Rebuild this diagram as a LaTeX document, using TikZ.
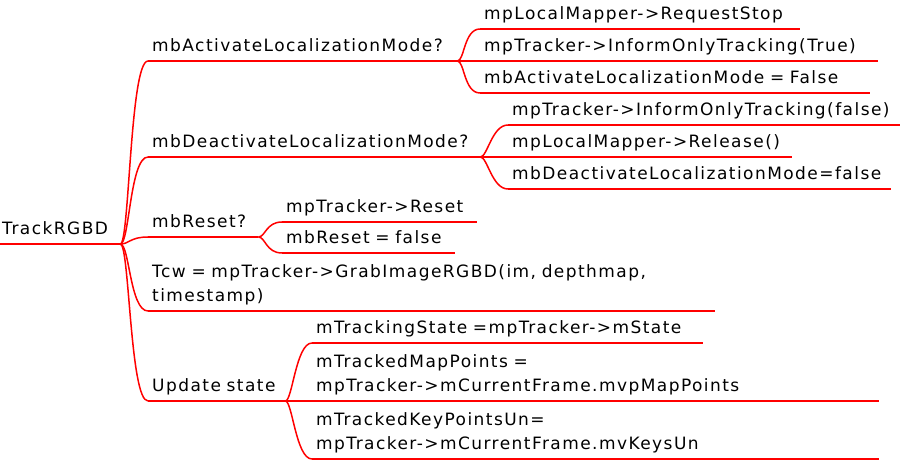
\documentclass[tikz,border=0pt]{standalone}
\usepackage{fontspec}
\setmainfont{DejaVu Sans}[LetterSpace=8.5]
\definecolor{linkred}{RGB}{255,0,0}
\begin{document}
\begin{tikzpicture}[x=1pt,y=-1pt,
  tn/.style={anchor=south west, inner xsep=4pt, inner ysep=9.5pt, text depth=0pt,
    align=left, font=\fontsize{17}{23.5}\selectfont},
  two/.style={text depth=23.5pt},
  link/.style={draw=linkred, line width=1.5pt},
]
\useasboundingbox (0,0) rectangle (921,462);
% root
\node[tn, inner xsep=2pt, text width=116pt] (root) at (0,244) {TrackRGBD};
% level 1
\node[tn, text width=301pt] (A) at (148,61) {mbActivateLocalizationMode?};
\node[tn, text width=324pt] (D) at (148,157) {mbDeactivateLocalizationMode?};
\node[tn, text width=102pt] (R) at (148,237) {mbReset?};
\node[tn, two, text width=559pt] (T) at (148,311) {Tcw = mpTracker->GrabImageRGBD(im, depthmap,\\timestamp)};
\node[tn, text width=129pt] (U) at (148,401) {Update state};
% level 2
\node[tn, text width=312pt] (A1) at (480,29) {mpLocalMapper->RequestStop};
\node[tn, text width=390pt] (A2) at (480,61) {mpTracker->InformOnlyTracking(True)};
\node[tn, text width=382pt] (A3) at (480,93) {mbActivateLocalizationMode = False};
\node[tn, text width=384pt] (D1) at (508,125) {mpTracker->InformOnlyTracking(false)};
\node[tn, text width=276pt] (D2) at (508,157) {mpLocalMapper->Release()};
\node[tn, text width=375pt] (D3) at (508,189) {mbDeactivateLocalizationMode=false};
\node[tn, text width=187pt] (R1) at (282,222) {mpTracker->Reset};
\node[tn, text width=165pt] (R2) at (282,253) {mbReset = false};
\node[tn, text width=383pt] (U1) at (312,343) {mTrackingState =mpTracker->mState};
\node[tn, two, text width=559pt] (U2) at (312,401) {mTrackedMapPoints =\\mpTracker->mCurrentFrame.mvpMapPoints};
\node[tn, two, text width=559pt] (U3) at (312,459) {mTrackedKeyPointsUn=\\mpTracker->mCurrentFrame.mvKeysUn};
% underlines
\foreach \n in {root,A,D,R,T,U,A1,A2,A3,D1,D2,D3,R1,R2,U1,U2,U3}
  \draw[link] (\n.south west) -- (\n.south east);
% connectors level 1
\foreach \c in {A,D,R,T,U}
  \draw[link] (root.south east) .. controls ([xshift=9pt]root.south east) and ([xshift=-18pt]\c.south west) .. (\c.south west);
% connectors level 2
\foreach \p/\c in {A/A1,A/A2,A/A3,D/D1,D/D2,D/D3,R/R1,R/R2,U/U1,U/U2,U/U3}
  \draw[link] (\p.south east) .. controls ([xshift=7pt]\p.south east) and ([xshift=-16pt]\c.south west) .. (\c.south west);
\end{tikzpicture}
\end{document}
